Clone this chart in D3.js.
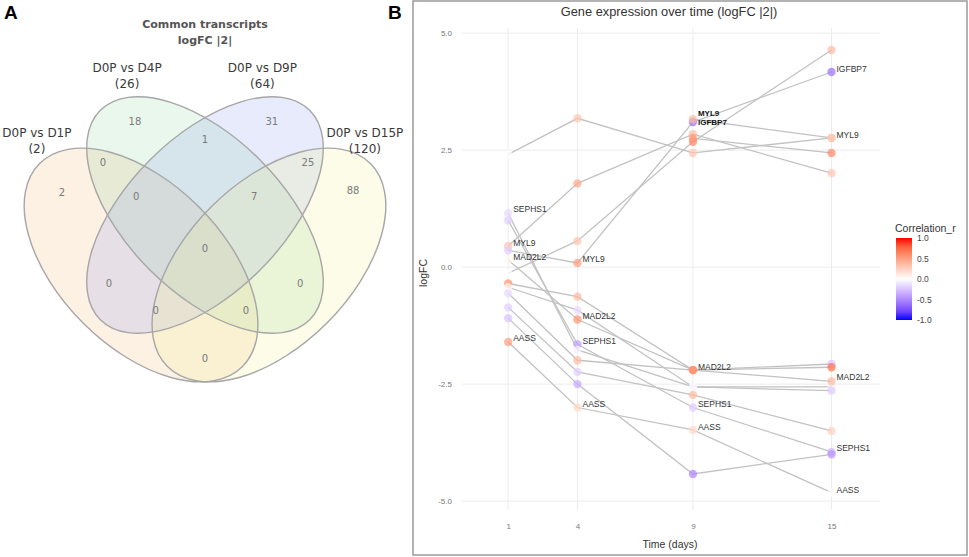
<!DOCTYPE html>
<html>
<head>
<meta charset="utf-8">
<script src="https://cdn.jsdelivr.net/npm/d3@7"></script>
<style>
  body { margin: 0; background: #fff; }
  svg { display: block; }
</style>
</head>
<body>
<svg id="fig" width="969" height="557"></svg>
<script>
// ---------- panel A data ----------
const vennSets = ['D0P vs D1P', 'D0P vs D4P', 'D0P vs D9P', 'D0P vs D15P'];
const vennTotals = [2, 26, 64, 120];
const vennFill = ['#f3b77a', '#8fd6a0', '#8d9cec', '#f0ef8a'];
// region counts (VennDiagram quad layout order)
const regionCounts = [18, 31, 1, 0, 25, 2, 88, 0, 7, 0, 0, 0, 0, 0, 0];

// ---------- panel B data ----------
const days = [1, 4, 9, 15];
// logFC per series at days 1, 4, 9, 15
const seriesLogFC = [
    [2.41, 3.18, 2.44, 2.76],
    [0.45, 1.79, 2.84, 2.01],
    [-0.13, 0.56, 2.68, 4.64],
    [0.36, 0.09, 3.10, 4.17],
    [null, null, 2.75, 2.44],
    [null, null, 3.16, 2.76],
    [1.00, -1.65, -3.00, -3.95],
    [1.15, -1.77, -2.56, -2.56],
    [0.15, -1.12, -2.20, -2.44],
    [-0.35, -0.63, -2.20, -2.07],
    [-0.43, -0.92, -2.56, -2.64],
    [-0.56, -1.99, -2.20, -2.14],
    [-0.86, -2.24, -2.73, -3.50],
    [-1.09, -2.50, -4.42, -4.00],
    [-1.60, -3.00, -3.48, -4.82]
];
// correlation r per point
const seriesR = [
    [0.0, 0.3, 0.3, 0.3],
    [0.3, 0.45, 0.35, 0.3],
    [0.0, 0.3, 0.6, 0.35],
    [-0.2, 0.5, -0.6, -0.6],
    [null, null, 0.55, 0.6],
    [null, null, 0.35, 0.3],
    [-0.2, -0.4, -0.2, -0.3],
    [-0.15, -0.05, 0.0, -0.05],
    [0.05, 0.55, 0.6, 0.35],
    [0.55, 0.35, 0.55, -0.25],
    [0.05, -0.15, -0.05, -0.2],
    [-0.15, 0.35, 0.55, 0.7],
    [-0.2, -0.2, 0.35, 0.25],
    [-0.25, -0.35, -0.5, -0.45],
    [0.5, 0.2, 0.2, 0.0]
];
// gene labels: name, day, logFC where the label sits, bold?
const geneLabels = [
    ['SEPHS1', 1, 1.24, false], ['MYL9', 1, 0.51, false], ['MAD2L2', 1, 0.21, false], ['AASS', 1, -1.52, false],
    ['MYL9', 4, 0.17, false], ['MAD2L2', 4, -1.05, false], ['SEPHS1', 4, -1.58, false], ['AASS', 4, -2.93, false],
    ['MYL9', 9, 3.29, true], ['IGFBP7', 9, 3.08, true], ['MAD2L2', 9, -2.14, false], ['SEPHS1', 9, -2.93, false], ['AASS', 9, -3.42, false],
    ['IGFBP7', 15, 4.23, false], ['MYL9', 15, 2.82, false], ['MAD2L2', 15, -2.35, false], ['SEPHS1', 15, -3.87, false], ['AASS', 15, -4.76, false]
];
const yTicks = [5, 2.5, 0, -2.5, -5];
const legendTicks = [1, 0.5, 0, -0.5, -1];

const svg = d3.select('#fig');

// ================= Panel A =================
// Venn drawn in a unit square, like VennDiagram does
const xV = d3.scaleLinear().domain([0, 1]).range([0, 410]);
const yV = d3.scaleLinear().domain([0, 1]).range([448.7, 38.7]);
const ell = {
    cx: [0.344, 0.5, 0.5, 0.656],
    cy: [0.448, 0.57, 0.57, 0.448],
    a: [0.35, 0.361, 0.361, 0.35],
    b: [0.2, 0.19, 0.19, 0.2],
    rot: [45, 45, -45, -45]
};
const regionU = [0.329, 0.663, 0.5, 0.251, 0.751, 0.151, 0.861, 0.332, 0.62, 0.5, 0.266, 0.732, 0.38, 0.6, 0.5];
const regionV = [0.799, 0.799, 0.753, 0.697, 0.697, 0.626, 0.629, 0.614, 0.614, 0.489, 0.402, 0.402, 0.338, 0.338, 0.219];
const setLabelU = [0.09, 0.31, 0.64, 0.89];
const setLabelV = [0.76, 0.918, 0.918, 0.76];

const gA = svg.append('g');
const len = v => xV(v) - xV(0);

vennSets.forEach((s, i) => {
    gA.append('ellipse')
        .attr('transform', `translate(${xV(ell.cx[i])},${yV(ell.cy[i])}) rotate(${ell.rot[i]})`)
        .attr('rx', len(ell.a[i])).attr('ry', len(ell.b[i]))
        .attr('fill', vennFill[i]).attr('fill-opacity', 0.2);
});
vennSets.forEach((s, i) => {
    gA.append('ellipse')
        .attr('transform', `translate(${xV(ell.cx[i])},${yV(ell.cy[i])}) rotate(${ell.rot[i]})`)
        .attr('rx', len(ell.a[i])).attr('ry', len(ell.b[i]))
        .attr('fill', 'none').attr('stroke', '#a6a6a6').attr('stroke-width', 1.4);
});

gA.selectAll('text.cnt').data(regionCounts).join('text')
    .attr('class', 'cnt')
    .attr('x', (d, i) => xV(regionU[i])).attr('y', (d, i) => yV(regionV[i]))
    .attr('text-anchor', 'middle').attr('dominant-baseline', 'central')
    .attr('font-family', 'DejaVu Sans, sans-serif').attr('font-size', 10).attr('fill', '#7a7a7a')
    .text(d => d);

vennSets.forEach((s, i) => {
    const t = gA.append('text')
        .attr('x', xV(setLabelU[i])).attr('y', yV(setLabelV[i]))
        .attr('text-anchor', 'middle')
        .attr('font-family', 'DejaVu Sans, sans-serif').attr('font-size', 12).attr('fill', '#3a3a3a');
    t.append('tspan').attr('x', xV(setLabelU[i])).text(s);
    t.append('tspan').attr('x', xV(setLabelU[i])).attr('dy', 16).text(`(${vennTotals[i]})`);
});

gA.append('text').attr('x', 205).attr('y', 28).attr('text-anchor', 'middle')
    .attr('font-family', 'DejaVu Sans, sans-serif').attr('font-size', 11).attr('font-weight', 'bold')
    .attr('fill', '#555').text('Common transcripts');
gA.append('text').attr('x', 205).attr('y', 44).attr('text-anchor', 'middle')
    .attr('font-family', 'DejaVu Sans, sans-serif').attr('font-size', 11).attr('font-weight', 'bold')
    .attr('fill', '#555').text('logFC |2|');

svg.append('text').attr('x', 4).attr('y', 19).attr('font-family', 'Liberation Sans, Arial, sans-serif')
    .attr('font-size', 19).attr('font-weight', 'bold').text('A');
svg.append('text').attr('x', 388).attr('y', 19).attr('font-family', 'Liberation Sans, Arial, sans-serif')
    .attr('font-size', 19).attr('font-weight', 'bold').text('B');

// ================= Panel B =================
const gB = svg.append('g').attr('font-family', 'Liberation Sans, Arial, sans-serif');
gB.append('rect').attr('x', 413).attr('y', 1).attr('width', 554).attr('height', 554)
    .attr('fill', '#fff').attr('stroke', '#9a9a9a').attr('stroke-width', 1.5);

const x = d3.scaleLinear().domain([-1, 17.1]).range([462, 880]);
const y = d3.scaleLinear().domain([-5.19, 5.11]).range([510, 28]);
const color = d3.scaleLinear().domain([-1, 0, 1]).range(['blue', 'white', 'red']).interpolate(d3.interpolateLab);
const fmt1 = d => d.toFixed(1);   // plain hyphen minus, like ggplot

// grid
gB.append('g').selectAll('line').data(yTicks).join('line')
    .attr('x1', x.range()[0]).attr('x2', x.range()[1])
    .attr('y1', d => y(d)).attr('y2', d => y(d))
    .attr('stroke', '#ececec').attr('stroke-width', 1);
gB.append('g').selectAll('line').data(days).join('line')
    .attr('x1', d => x(d)).attr('x2', d => x(d))
    .attr('y1', y.range()[0]).attr('y2', y.range()[1])
    .attr('stroke', '#ececec').attr('stroke-width', 1);

// axes (ggplot minimal style: text only)
const yAxis = gB.append('g').attr('transform', `translate(${x.range()[0]},0)`)
    .call(d3.axisLeft(y).tickValues(yTicks).tickFormat(fmt1).tickSize(0).tickPadding(10));
const xAxis = gB.append('g').attr('transform', `translate(0,${y.range()[0]})`)
    .call(d3.axisBottom(x).tickValues(days).tickFormat(d3.format('d')).tickSize(0).tickPadding(13));
[xAxis, yAxis].forEach(a => {
    a.select('.domain').remove();
    a.selectAll('text').attr('fill', '#777').attr('font-size', 8).attr('font-family', 'Liberation Sans, Arial, sans-serif');
});

// lines
const line = d3.line().defined(d => d.v != null).x(d => x(d.day)).y(d => y(d.v));
const series = seriesLogFC.map((vals, i) => vals.map((v, j) => ({ day: days[j], v, r: seriesR[i][j] })));
gB.append('g').selectAll('path').data(series).join('path')
    .attr('d', line).attr('fill', 'none').attr('stroke', '#c2c2c2').attr('stroke-width', 1.3);

// points
const pts = series.flat().filter(d => d.v != null);
gB.append('g').selectAll('circle').data(pts).join('circle')
    .attr('cx', d => x(d.day)).attr('cy', d => y(d.v)).attr('r', 4.2)
    .attr('fill', d => color(d.r)).attr('fill-opacity', 0.72);

// gene labels
gB.append('g').selectAll('text').data(geneLabels).join('text')
    .attr('x', d => x(d[1]) + 5).attr('y', d => y(d[2]))
    .attr('dominant-baseline', 'central')
    .attr('font-size', d => d[3] ? 8 : 8.5).attr('font-weight', d => d[3] ? 'bold' : 'normal')
    .attr('fill', d => d[3] ? '#111' : '#333')
    .text(d => d[0]);

// titles
gB.append('text').attr('x', 669).attr('y', 16).attr('text-anchor', 'middle')
    .attr('font-size', 12.8).attr('fill', '#333').text('Gene expression over time (logFC |2|)');
gB.append('text').attr('x', 670).attr('y', 548).attr('text-anchor', 'middle')
    .attr('font-size', 10.5).attr('fill', '#333').text('Time (days)');
gB.append('text').attr('transform', 'translate(427,273) rotate(-90)').attr('text-anchor', 'middle')
    .attr('font-size', 10.5).attr('fill', '#333').text('logFC');

// colour legend
const defs = svg.append('defs');
const grad = defs.append('linearGradient').attr('id', 'corrGrad').attr('x1', 0).attr('y1', 1).attr('x2', 0).attr('y2', 0);
d3.range(0, 1.0001, 0.1).forEach(t => {
    grad.append('stop').attr('offset', t).attr('stop-color', color(-1 + 2 * t));
});
const lg = d3.scaleLinear().domain([-1, 1]).range([320, 238]);
gB.append('text').attr('x', 895).attr('y', 232).attr('font-size', 10.5).attr('fill', '#333').text('Correlation_r');
gB.append('rect').attr('x', 896).attr('y', lg(1)).attr('width', 16).attr('height', lg(-1) - lg(1))
    .attr('fill', 'url(#corrGrad)');
gB.append('g').selectAll('text').data(legendTicks).join('text')
    .attr('x', 917).attr('y', d => lg(d)).attr('dominant-baseline', 'central')
    .attr('font-size', 8.5).attr('fill', '#444').text(fmt1);
</script>
</body>
</html>
